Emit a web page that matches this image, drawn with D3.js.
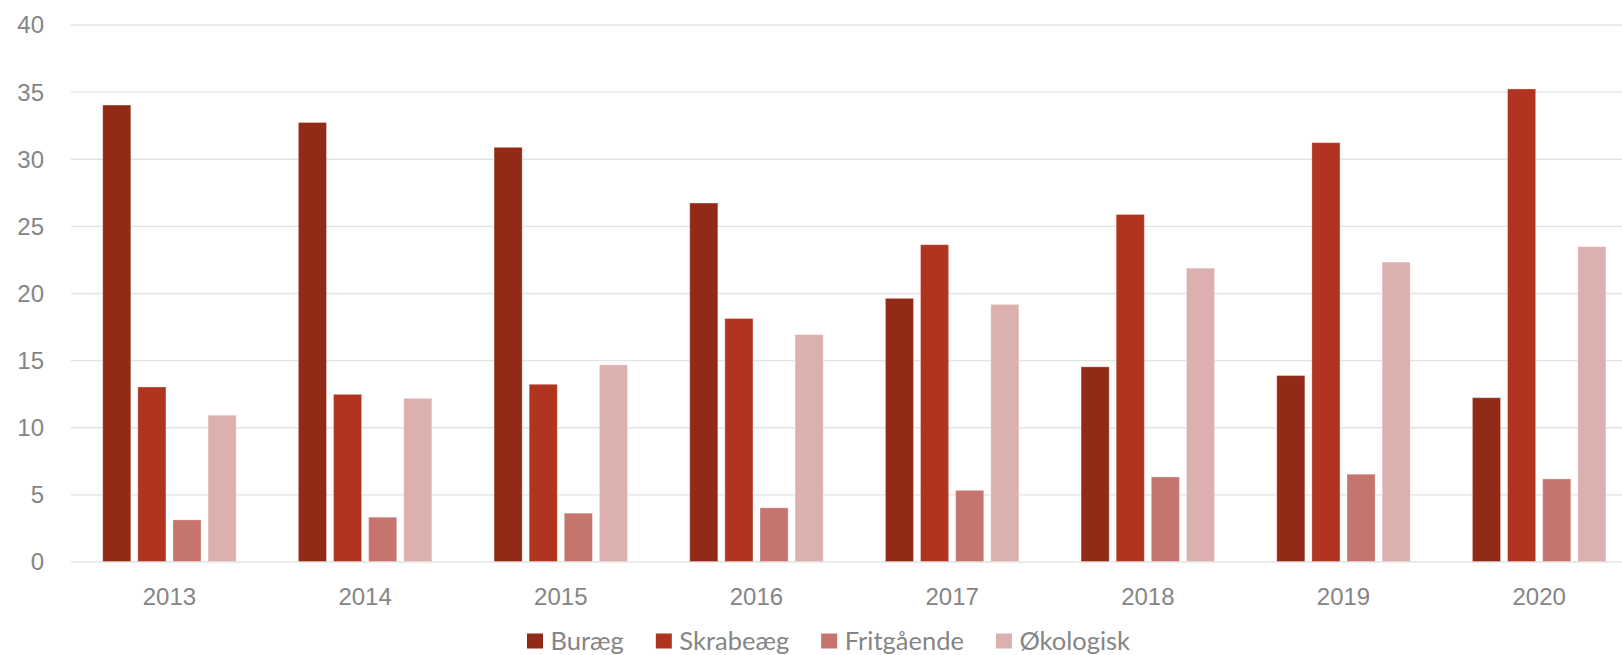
<!DOCTYPE html>
<html>
<head>
<meta charset="utf-8">
<script src="https://cdn.jsdelivr.net/npm/d3@7"></script>
<style>
  html, body { margin: 0; padding: 0; background: #fff; }
  svg { display: block; font-family: Lato, "Open Sans", sans-serif; }
</style>
</head>
<body>
<div id="chart"></div>
<script>
// data
let years = ["2013", "2014", "2015", "2016", "2017", "2018", "2019", "2020"];
let seriesNames = ["Buræg", "Skrabeæg", "Fritgående", "Økologisk"];
let buraeg     = [34.0, 32.7, 30.85, 26.7, 19.6, 14.5, 13.85, 12.2];
let skrabeaeg  = [13.0, 12.45, 13.2, 18.1, 23.6, 25.85, 31.2, 35.2];
let fritgaaende= [3.1, 3.3, 3.6, 4.0, 5.3, 6.3, 6.5, 6.15];
let oekologisk = [10.9, 12.15, 14.65, 16.9, 19.15, 21.85, 22.3, 23.45];
let yTicks = [0, 5, 10, 15, 20, 25, 30, 35, 40];
let colors = ["#922A18", "#B0341F", "#C6746E", "#DBB0AF"];

let width = 1622;
let height = 655;
let textColor = "#858585";

let seriesValues = [buraeg, skrabeaeg, fritgaaende, oekologisk];
let rows = years.map((y, i) => ({
    year: y,
    vals: seriesNames.map((s, j) => ({ name: s, value: seriesValues[j][i] }))
}));

let svg = d3.select("#chart")
    .append("svg")
    .attr("width", width)
    .attr("height", height);

let x0 = d3.scaleBand()
    .domain(years)
    .range([71.6, 1637])
    .paddingInner(0.318)
    .paddingOuter(0.159);

let x1 = d3.scaleBand()
    .domain(seriesNames)
    .range([0, x0.bandwidth()])
    .paddingInner(0.2);

let y = d3.scaleLinear()
    .domain([0, 40])
    .range([561.5, 24.5]);

let color = d3.scaleOrdinal()
    .domain(seriesNames)
    .range(colors);

// grid
let grid = svg.append("g")
    .attr("transform", "translate(71,0)")
    .call(d3.axisLeft(y).tickValues(yTicks).tickSize(-(width - 71)).tickFormat(""));
grid.select(".domain").remove();
grid.selectAll("line").attr("stroke", "#e3e3e3").attr("stroke-width", 1.4);

// y labels
let yAxis = svg.append("g")
    .attr("transform", "translate(44,0)")
    .call(d3.axisLeft(y).tickValues(yTicks).tickSize(0).tickPadding(0));
yAxis.select(".domain").remove();
yAxis.selectAll("text")
    .attr("fill", textColor)
    .style("font-size", "24px")
    .attr("dy", "0.35em");

// bars
svg.append("g")
    .selectAll("g")
    .data(rows)
    .join("g")
    .attr("transform", d => `translate(${x0(d.year)},0)`)
    .selectAll("rect")
    .data(d => d.vals)
    .join("rect")
    .attr("x", d => x1(d.name))
    .attr("y", d => y(d.value))
    .attr("width", x1.bandwidth())
    .attr("height", d => y(0) - y(d.value))
    .attr("fill", d => color(d.name))
    .attr("stroke", "#fff")
    .attr("stroke-opacity", 0.3)
    .attr("stroke-width", 1);

// x labels
let xAxis = svg.append("g")
    .attr("transform", `translate(0,${y(0)})`)
    .call(d3.axisBottom(x0).tickSize(0));
xAxis.select(".domain").remove();
xAxis.selectAll("text")
    .attr("fill", textColor)
    .style("font-size", "24px")
    .attr("dy", "0.35em")
    .attr("y", 35);

// legend
let legend = svg.append("g").attr("transform", "translate(527,641)");
let lx = 0;
seriesNames.forEach((name, i) => {
    let item = legend.append("g").attr("transform", `translate(${lx},0)`);
    item.append("rect")
        .attr("x", 0).attr("y", -7.5)
        .attr("width", 16).attr("height", 15)
        .attr("fill", color(name));
    let t = item.append("text")
        .attr("x", 23.5)
        .attr("dy", "0.35em")
        .attr("fill", textColor)
        .style("font-size", "25.5px")
        .text(name);
    lx += 23.5 + t.node().getComputedTextLength() + 32;
});
</script>
</body>
</html>
